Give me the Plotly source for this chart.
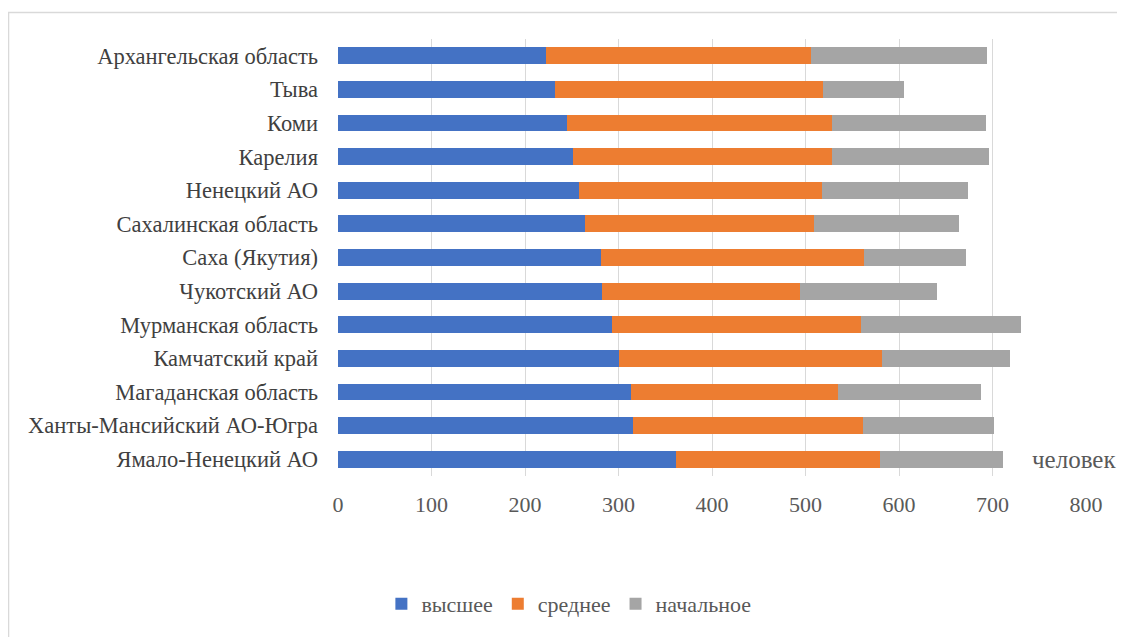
import plotly.graph_objects as go

regions = ["Архангельская область", "Тыва", "Коми", "Карелия", "Ненецкий АО",
           "Сахалинская область", "Саха (Якутия)", "Чукотский АО", "Мурманская область",
           "Камчатский край", "Магаданская область", "Ханты-Мансийский АО-Югра",
           "Ямало-Ненецкий АО"]
higher = [222, 232, 245, 251, 258, 264, 281, 282, 293, 300, 313, 316, 361]
secondary = [284, 287, 283, 277, 260, 245, 282, 212, 266, 282, 222, 245, 219]
primary = [188, 86, 165, 168, 156, 155, 109, 147, 171, 137, 153, 141, 131]
x_ticks = [0, 100, 200, 300, 400, 500, 600, 700, 800]

FONT = "Liberation Serif"
GREY = "#595959"

fig = go.Figure()
for name, vals, col in [("высшее", higher, "#4472C4"),
                        ("среднее", secondary, "#ED7D31"),
                        ("начальное", primary, "#A5A5A5")]:
    fig.add_trace(go.Bar(y=regions, x=vals, name=name, orientation="h",
                         marker=dict(color=col, line=dict(width=0)), width=0.5))

fig.update_layout(
    barmode="stack",
    width=1117, height=629,
    margin=dict(l=330, r=39, t=31, b=154),
    paper_bgcolor="white", plot_bgcolor="white",
    font=dict(family=FONT, size=22, color=GREY),
    xaxis=dict(range=[0, 800], tickvals=x_ticks, showgrid=True, gridcolor="#d9d9d9",
               gridwidth=1, zeroline=False, showline=False, ticks="",
               ticklabelstandoff=13, tickfont=dict(family=FONT, size=22, color=GREY)),
    yaxis=dict(autorange="reversed", showgrid=False, zeroline=False, showline=False,
               ticks="", ticklabelstandoff=19,
               tickfont=dict(family=FONT, size=22.5, color="#404040")),
    legend=dict(orientation="h", x=0.058, xanchor="left", y=-0.293, yanchor="middle",
                font=dict(family=FONT, size=22, color=GREY), traceorder="normal",
                itemwidth=30),
    showlegend=True,
)

fig.add_annotation(x=1.0428, xref="paper", y=regions[-1], yref="y", text="человек",
                   showarrow=False, xanchor="right", yanchor="middle",
                   font=dict(size=25, color=GREY, family=FONT))

fig.add_shape(type="rect", xref="paper", yref="paper",
              x0=-0.4405, x1=1.08, y0=-0.4, y1=1.0608,
              line=dict(color="#d9d9d9", width=1.5), layer="below")

fig.write_html("out.html")
